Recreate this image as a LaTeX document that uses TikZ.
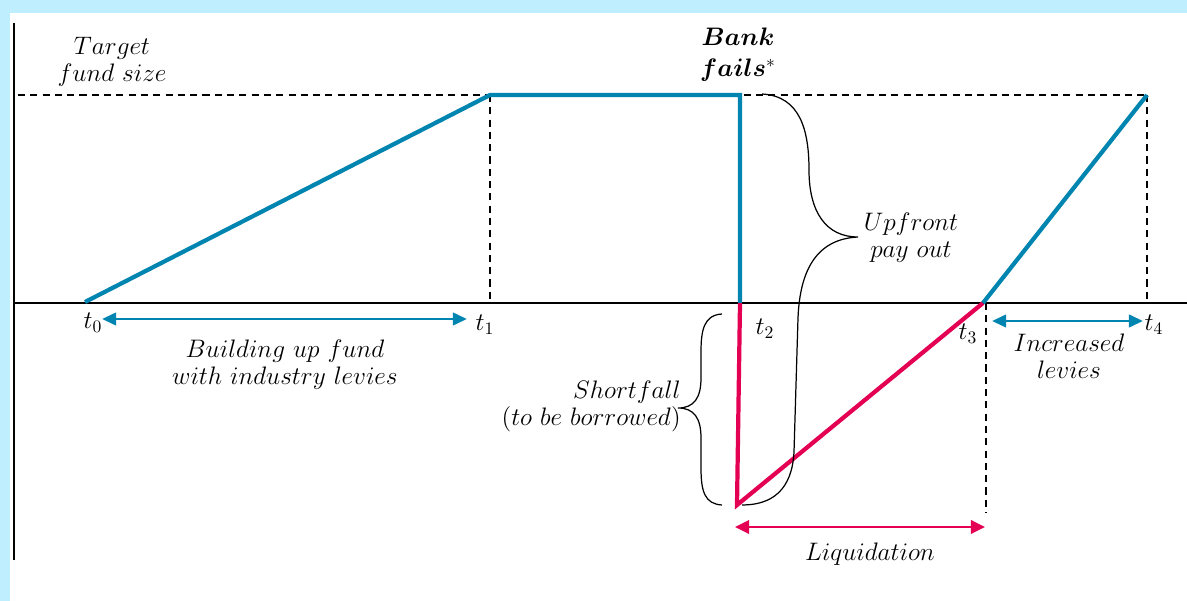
\documentclass[tikz,border=0pt]{standalone}
\usepackage{bm}
\usetikzlibrary{arrows.meta}
\definecolor{fundblue}{RGB}{0,133,176}
\definecolor{loanred}{RGB}{228,0,82}
\definecolor{bgblue}{RGB}{191,239,255}
\begin{document}
\begin{tikzpicture}[x=0.02cm,y=-0.02cm,
  fund/.style={fundblue, line width=2.4pt, line join=miter},
  loan/.style={loanred, line width=2.4pt, line join=miter},
  guide/.style={dash pattern=on 4pt off 3pt, line width=0.6pt},
  axis/.style={line width=0.8pt},
  brc/.style={line width=0.7pt},
  lbl/.style={font=\fontsize{14}{15.5}\selectfont, align=center, inner sep=0pt},
  bluearrow/.style={fundblue, line width=1.7pt, {Triangle[length=8pt,width=7pt]}-{Triangle[length=8pt,width=7pt]}},
  redarrow/.style={loanred, line width=1.7pt, {Triangle[length=8pt,width=7.5pt]}-{Triangle[length=8pt,width=7.5pt]}}]
\fill[bgblue] (0,0) rectangle (1187,601);
\fill[white] (10,13) rectangle (1187,601);
\useasboundingbox (0,0) rectangle (1187,601);
% coordinates
\coordinate (ytop) at (14,23);
\coordinate (ybot) at (14,560);
\coordinate (xl) at (14,303);
\coordinate (xr) at (1187,303);
\coordinate (tgtL) at (18,95);
\coordinate (p0) at (85,302);
\coordinate (p1) at (490,95);
\coordinate (p2) at (740,95);
\coordinate (p2b) at (740,303);
\coordinate (p2d) at (737,505);
\coordinate (p3) at (983,303);
\coordinate (p4) at (1147,95);
\coordinate (t1b) at (490,303);
\coordinate (t4b) at (1147,303);
\coordinate (t3t) at (986,303);
\coordinate (t3b) at (986,513);
\coordinate (a0) at (102,319);
\coordinate (a1) at (467,319);
\coordinate (a3) at (992,321);
\coordinate (a4) at (1143,321);
\coordinate (r0) at (735,527);
\coordinate (r1) at (985,527);
% guides
\draw[guide] (tgtL) -- (p4);
\draw[guide] (p1) -- (t1b);
\draw[guide] (p4) -- (t4b);
\draw[guide] (t3t) -- (t3b);
% axes
\draw[line width=1.2pt] (ytop) -- (ybot);
\draw[axis] (xl) -- (xr);
% fund path
\draw[fund] (p0) -- (p1) -- (p2) -- (p2b);
\draw[loan] (p2b) -- (p2d) -- (p3);
\draw[fund] (p3) -- (p4);
% arrows
\draw[bluearrow] (a0) -- (a1);
\draw[bluearrow] (a3) -- (a4);
\draw[redarrow] (r0) -- (r1);
% braces
\draw[brc] (762,94) .. controls (800,96) and (809,130) .. (809,170)
  .. controls (809,212) and (826,237) .. (858,237)
  .. controls (818,239) and (800,268) .. (798,318) -- (794,452)
  .. controls (792,490) and (772,505) .. (742,505);
\draw[brc] (722,314) .. controls (704,315) and (701,330) .. (701,352) -- (701,378)
  .. controls (701,398) and (694,408) .. (678,408)
  .. controls (694,408) and (701,418) .. (701,438) -- (701,468)
  .. controls (701,492) and (705,504) .. (722,505);
% labels
\node[lbl] (lt0) at (93,323) {$t_0$};
\node[lbl] (lt1) at (485,325) {$t_1$};
\node[lbl] (lt2) at (765,329) {$t_2$};
\node[lbl] (lt3) at (968,334) {$t_3$};
\node[lbl] (lt4) at (1154,325) {$t_4$};
\node[lbl] (target) at (112,62) {$Target$\\$fund\ size$};
\node[lbl] (bank) at (738,55) {$\bm{Bank}$\\[2pt]$\bm{fails}^{*}$};
\node[lbl] (build) at (285,365) {$Building\ up\ fund$\\$with\ industry\ levies$};
\node[lbl] (upfront) at (911,238) {$Upfront$\\$pay\ out$};
\node[lbl, align=right, anchor=east] (short) at (681,406) {$Shortfall$\\$(to\ be\ borrowed)$};
\node[lbl] (incr) at (1069,356) {$Increased$\\$levies$};
\node[lbl] (liq) at (870,554) {$Liquidation$};
\end{tikzpicture}
\end{document}
